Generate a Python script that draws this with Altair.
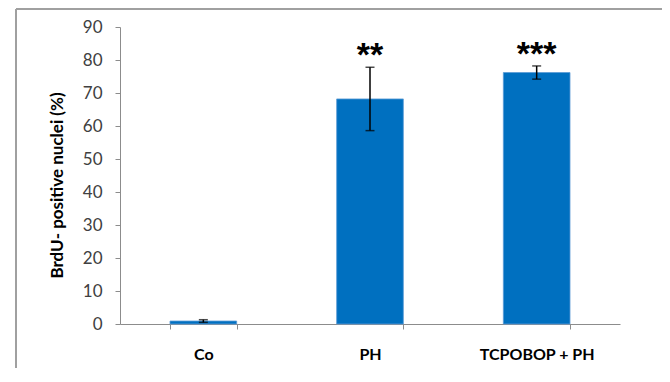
import altair as alt
import pandas as pd

categories = ["Co", "PH", "TCPOBOP + PH"]
values = [0.9, 68.2, 76.2]
errors = [0.4, 9.6, 2.0]
stars = ["", "**", "***"]
y_ticks = [0, 10, 20, 30, 40, 50, 60, 70, 80, 90]

df = pd.DataFrame({
    "cat": categories,
    "val": values,
    "err": errors,
    "star": stars,
})
df["lo"] = df["val"] - df["err"]
df["hi"] = df["val"] + df["err"]

FONT = "Lato"

x = alt.X("cat:N", sort=categories, title=None,
          scale=alt.Scale(paddingInner=0.6, paddingOuter=0.3),
          axis=alt.Axis(labelAngle=0, labelFont=FONT, labelFontSize=16, labelFontWeight="bold",
                        labelColor="#000000", labelPadding=17, tickBand="extent",
                        tickColor="#8c8c8c", domainColor="#8c8c8c", tickSize=5))
y_scale = alt.Scale(domain=[0, 90], nice=False)

bars = alt.Chart(df).mark_bar(color="#0070C0", stroke="#5a9ad6", strokeWidth=0.8).encode(
    x=x,
    y=alt.Y("val:Q", scale=y_scale, title="BrdU- positive nuclei (%)",
            axis=alt.Axis(values=y_ticks, tickCount=10, labelOverlap=False, grid=False,
                          labelFont=FONT, labelFontSize=17, labelColor="#404040", labelPadding=13,
                          tickColor="#8c8c8c", domainColor="#8c8c8c", tickSize=5,
                          titleFont=FONT, titleFontSize=17, titleFontWeight="bold",
                          titleColor="#000000", titlePadding=16, titleY=158)),
)

rule = alt.Chart(df).mark_rule(color="#000000", strokeWidth=1.5).encode(
    x=alt.X("cat:N", sort=categories), y=alt.Y("lo:Q", scale=y_scale), y2="hi:Q")
cap_hi = alt.Chart(df).mark_tick(color="#000000", size=9, thickness=1.5).encode(
    x=alt.X("cat:N", sort=categories), y=alt.Y("hi:Q", scale=y_scale))
cap_lo = alt.Chart(df).mark_tick(color="#000000", size=9, thickness=1.5).encode(
    x=alt.X("cat:N", sort=categories), y=alt.Y("lo:Q", scale=y_scale))

text = alt.Chart(df).mark_text(font="Liberation Sans", fontSize=34, fontWeight="bold",
                               baseline="middle", dy=-11, color="#000000").encode(
    x=alt.X("cat:N", sort=categories), y=alt.Y("hi:Q", scale=y_scale), text="star:N")

frame_v = alt.Chart(df).mark_rule(color="#a0a0a0", strokeWidth=2).encode(
    x=alt.value(-104), y=alt.value(-18), y2=alt.value(345))
frame_h = alt.Chart(df).mark_rule(color="#a0a0a0", strokeWidth=2).encode(
    x=alt.value(-104), x2=alt.value(545), y=alt.value(-18))

chart = alt.layer(frame_v, frame_h, bars, rule, cap_hi, cap_lo, text).properties(
    width=500, height=297,
    autosize=alt.AutoSizeParams(type="none"),
    padding={"left": 112, "top": 19, "right": 42, "bottom": 44},
).configure_view(stroke=None).configure_axis(grid=False)

chart.save("out.html", embed_options={"renderer": "svg", "actions": False})
